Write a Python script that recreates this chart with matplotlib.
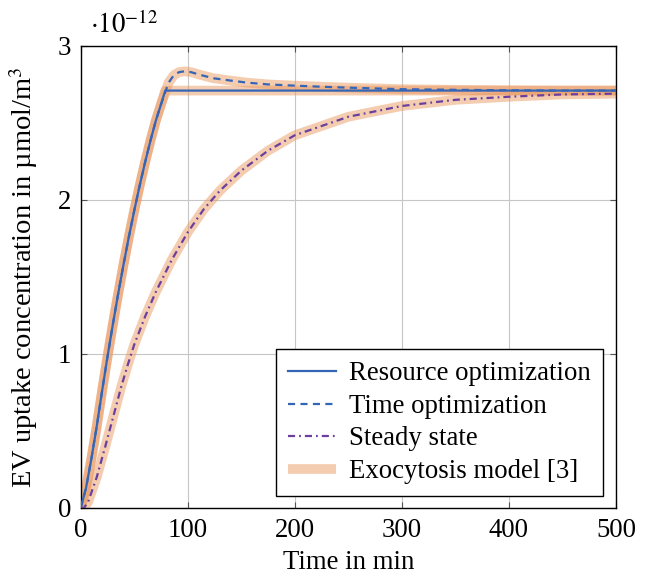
import matplotlib
matplotlib.use('Agg')
import matplotlib.pyplot as plt
from matplotlib.lines import Line2D

plt.rcParams['font.family'] = ['Liberation Serif', 'DejaVu Serif']
plt.rcParams['mathtext.fontset'] = 'stix'

# values in units of 1e-12 umol/m^3
t_resource = [0, 5, 10, 15, 20, 25, 30, 35, 40, 45, 50, 55, 60, 65, 70, 75, 79, 500]
v_resource = [0, 0.13, 0.32, 0.53, 0.76, 0.98, 1.19, 1.39, 1.58, 1.76, 1.93, 2.09, 2.24,
              2.38, 2.51, 2.62, 2.71, 2.71]

t_time = [0, 5, 10, 15, 20, 25, 30, 35, 40, 45, 50, 55, 60, 65, 70, 75, 79, 82, 87, 92, 97,
          103, 110, 124, 140, 155, 175, 200, 225, 250, 300, 350, 400, 450, 500]
v_time = [0, 0.13, 0.32, 0.53, 0.76, 0.98, 1.19, 1.39, 1.58, 1.76, 1.93, 2.09, 2.24, 2.38,
          2.51, 2.62, 2.70, 2.76, 2.81, 2.83, 2.835, 2.83, 2.815, 2.79, 2.775, 2.762, 2.75,
          2.742, 2.735, 2.729, 2.719, 2.715, 2.712, 2.71, 2.71]

t_steady = [0, 3, 7, 11, 15, 19, 23, 28, 33, 38, 44, 50, 60, 70, 85, 100, 115, 130, 150, 175,
            200, 250, 300, 350, 400, 450, 500]
v_steady = [0, 0, 0.04, 0.12, 0.2, 0.3, 0.4, 0.53, 0.66, 0.79, 0.93, 1.06, 1.24, 1.40, 1.61,
            1.79, 1.94, 2.06, 2.19, 2.32, 2.42, 2.54, 2.61, 2.65, 2.67, 2.685, 2.69]

x_ticks = [0, 100, 200, 300, 400, 500]
y_ticks = [0, 1, 2, 3]

labels = ['Resource optimization', 'Time optimization', 'Steady state', 'Exocytosis model [3]']

blue = '#3566b6'
purple = '#6b3f9e'
band = '#eb9a62'
FS = 19.3

fig = plt.figure(figsize=(6.47, 5.74), dpi=100)
ax = fig.add_axes([0.1247, 0.115, 0.8273, 0.805])

for tt, vv in [(t_resource, v_resource), (t_time, v_time), (t_steady, v_steady)]:
    ax.plot(tt, vv, color=band, alpha=0.5, lw=7, solid_capstyle='butt',
            solid_joinstyle='round', zorder=1)

ax.plot(t_resource, v_resource, color=blue, lw=1.6, zorder=3)
ax.plot(t_time, v_time, color=blue, lw=1.6, dashes=(3.2, 2.4), zorder=3)
ax.plot(t_steady, v_steady, color=purple, lw=1.6, dashes=(3.2, 1.8, 0.8, 1.8), zorder=3)

ax.set_xlim(0, 500)
ax.set_ylim(0, 3)
ax.set_xticks(x_ticks)
ax.set_yticks(y_ticks)
ax.set_xticklabels([str(v) for v in x_ticks])
ax.set_yticklabels([str(v) for v in y_ticks])
ax.grid(True, color='#c6c6c6', lw=0.8)
ax.set_axisbelow(True)
ax.tick_params(direction='in', length=4, width=0.8, colors='#555555', labelcolor='black',
               labelsize=FS, top=True, right=True, pad=7)
for s in ax.spines.values():
    s.set_linewidth(1.0)

ax.set_xlabel('Time in min', fontsize=FS, labelpad=5)
ax.set_ylabel('EV uptake concentration in µmol/m$^3$', fontsize=20.5)
ax.yaxis.set_label_coords(-0.076, 0.5)
ax.text(0.017, 1.028, r'$\cdot 10^{-12}$', transform=ax.transAxes, fontsize=FS,
        ha='left', va='baseline')

handles = [
    Line2D([], [], color=blue, lw=1.6),
    Line2D([], [], color=blue, lw=1.6, dashes=(3.2, 2.4)),
    Line2D([], [], color=purple, lw=1.6, dashes=(3.2, 1.8, 0.8, 1.8)),
    Line2D([], [], color=band, alpha=0.5, lw=7, solid_capstyle='butt'),
]
leg = ax.legend(handles, labels, loc='lower right', fontsize=FS, frameon=True,
                fancybox=False, edgecolor='black', framealpha=1, handlelength=1.8,
                borderpad=0.45, labelspacing=0.28, handletextpad=0.5,
                borderaxespad=0, bbox_to_anchor=(0.976, 0.026))
leg.get_frame().set_linewidth(1.0)

fig.savefig('out.png', dpi=100)
